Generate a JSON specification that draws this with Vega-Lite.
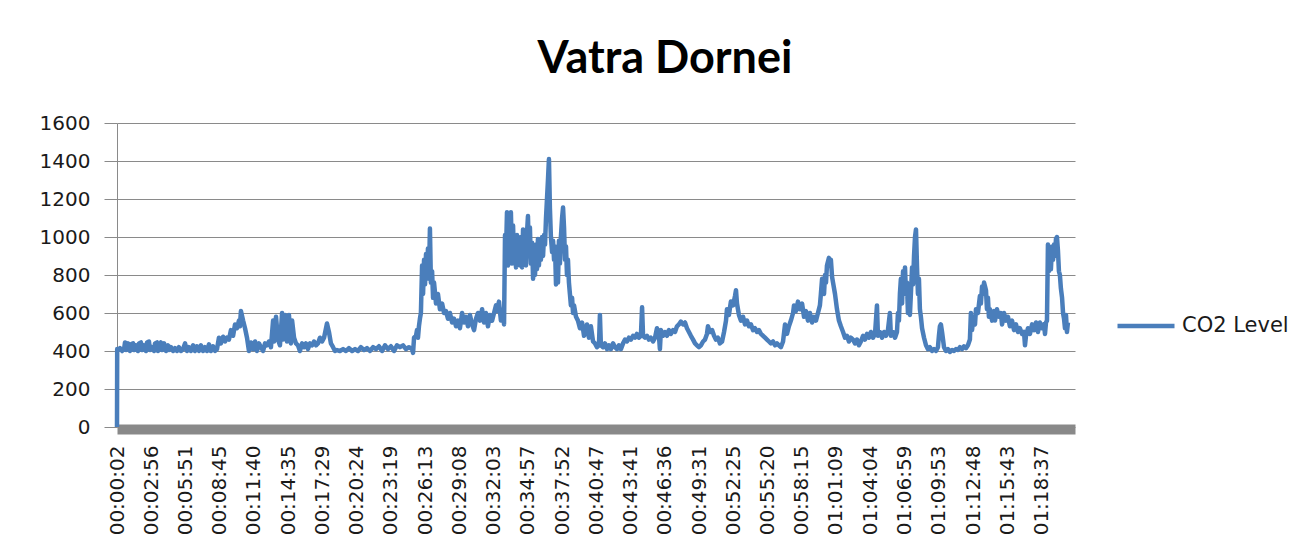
{
  "$schema": "https://vega.github.io/schema/vega-lite/v6.json",
  "autosize": {"type": "none"},
  "width": 958,
  "height": 304,
  "padding": {"left": 117, "top": 123, "right": 227, "bottom": 129},
  "background": "white",
  "title": {"text": "Vatra Dornei", "font": "Lato", "fontSize": 45, "fontWeight": "bold", "color": "#000000", "anchor": "middle", "frame": "group", "dx": 69, "baseline": "alphabetic", "offset": -5},
  "data": {"values": [
{"t":2,"co2":0},{"t":3,"co2":410},{"t":7,"co2":405},{"t":17,"co2":415},{"t":28,"co2":400},{"t":38,"co2":410},{"t":43,"co2":445},{"t":48,"co2":405},{"t":58,"co2":440},{"t":68,"co2":400},{"t":73,"co2":435},{"t":84,"co2":440},{"t":89,"co2":405},{"t":99,"co2":430},{"t":109,"co2":400},{"t":114,"co2":440},{"t":124,"co2":445},{"t":130,"co2":405},{"t":140,"co2":430},{"t":150,"co2":400},{"t":155,"co2":445},{"t":165,"co2":450},{"t":170,"co2":405},{"t":180,"co2":420},{"t":191,"co2":400},{"t":196,"co2":440},{"t":206,"co2":445},{"t":211,"co2":400},{"t":221,"co2":435},{"t":226,"co2":445},{"t":232,"co2":405},{"t":242,"co2":440},{"t":252,"co2":400},{"t":262,"co2":430},{"t":267,"co2":405},{"t":277,"co2":420},{"t":288,"co2":400},{"t":298,"co2":415},{"t":308,"co2":400},{"t":318,"co2":420},{"t":328,"co2":400},{"t":339,"co2":410},{"t":349,"co2":440},{"t":359,"co2":400},{"t":369,"co2":420},{"t":379,"co2":400},{"t":390,"co2":430},{"t":400,"co2":400},{"t":410,"co2":425},{"t":420,"co2":400},{"t":430,"co2":430},{"t":441,"co2":400},{"t":451,"co2":420},{"t":461,"co2":400},{"t":471,"co2":435},{"t":481,"co2":400},{"t":492,"co2":425},{"t":502,"co2":400},{"t":512,"co2":410},{"t":522,"co2":470},{"t":532,"co2":440},{"t":543,"co2":475},{"t":553,"co2":450},{"t":563,"co2":470},{"t":573,"co2":460},{"t":583,"co2":510},{"t":594,"co2":480},{"t":604,"co2":540},{"t":614,"co2":520},{"t":624,"co2":560},{"t":629,"co2":530},{"t":634,"co2":610},{"t":645,"co2":560},{"t":655,"co2":520},{"t":665,"co2":470},{"t":675,"co2":400},{"t":685,"co2":445},{"t":696,"co2":410},{"t":706,"co2":450},{"t":716,"co2":400},{"t":726,"co2":440},{"t":736,"co2":420},{"t":747,"co2":400},{"t":757,"co2":440},{"t":767,"co2":430},{"t":777,"co2":450},{"t":787,"co2":420},{"t":798,"co2":560},{"t":803,"co2":450},{"t":813,"co2":580},{"t":823,"co2":460},{"t":833,"co2":430},{"t":844,"co2":600},{"t":849,"co2":460},{"t":859,"co2":590},{"t":869,"co2":450},{"t":879,"co2":590},{"t":889,"co2":440},{"t":895,"co2":560},{"t":905,"co2":470},{"t":915,"co2":440},{"t":925,"co2":430},{"t":935,"co2":400},{"t":946,"co2":440},{"t":956,"co2":420},{"t":966,"co2":440},{"t":976,"co2":410},{"t":986,"co2":440},{"t":997,"co2":430},{"t":1007,"co2":450},{"t":1017,"co2":430},{"t":1027,"co2":440},{"t":1037,"co2":470},{"t":1048,"co2":450},{"t":1058,"co2":470},{"t":1068,"co2":520},{"t":1073,"co2":545},{"t":1083,"co2":500},{"t":1093,"co2":440},{"t":1104,"co2":420},{"t":1114,"co2":400},{"t":1124,"co2":405},{"t":1139,"co2":400},{"t":1155,"co2":410},{"t":1170,"co2":400},{"t":1185,"co2":415},{"t":1201,"co2":400},{"t":1216,"co2":410},{"t":1231,"co2":400},{"t":1246,"co2":420},{"t":1262,"co2":405},{"t":1277,"co2":415},{"t":1292,"co2":400},{"t":1308,"co2":420},{"t":1323,"co2":410},{"t":1338,"co2":425},{"t":1354,"co2":400},{"t":1369,"co2":430},{"t":1384,"co2":410},{"t":1399,"co2":425},{"t":1415,"co2":400},{"t":1430,"co2":430},{"t":1445,"co2":420},{"t":1461,"co2":430},{"t":1476,"co2":410},{"t":1491,"co2":420},{"t":1507,"co2":410},{"t":1512,"co2":390},{"t":1517,"co2":470},{"t":1527,"co2":480},{"t":1532,"co2":510},{"t":1537,"co2":470},{"t":1542,"co2":530},{"t":1547,"co2":570},{"t":1552,"co2":600},{"t":1558,"co2":850},{"t":1563,"co2":700},{"t":1568,"co2":880},{"t":1573,"co2":750},{"t":1578,"co2":910},{"t":1583,"co2":820},{"t":1588,"co2":940},{"t":1593,"co2":780},{"t":1598,"co2":1045},{"t":1603,"co2":760},{"t":1609,"co2":820},{"t":1614,"co2":680},{"t":1619,"co2":760},{"t":1629,"co2":650},{"t":1639,"co2":700},{"t":1649,"co2":620},{"t":1660,"co2":650},{"t":1670,"co2":600},{"t":1680,"co2":610},{"t":1690,"co2":570},{"t":1700,"co2":600},{"t":1711,"co2":550},{"t":1721,"co2":570},{"t":1731,"co2":530},{"t":1741,"co2":560},{"t":1751,"co2":520},{"t":1762,"co2":600},{"t":1772,"co2":550},{"t":1782,"co2":580},{"t":1792,"co2":530},{"t":1802,"co2":590},{"t":1813,"co2":540},{"t":1823,"co2":510},{"t":1833,"co2":570},{"t":1843,"co2":600},{"t":1853,"co2":560},{"t":1864,"co2":620},{"t":1874,"co2":550},{"t":1884,"co2":600},{"t":1894,"co2":530},{"t":1904,"co2":590},{"t":1915,"co2":560},{"t":1925,"co2":600},{"t":1935,"co2":640},{"t":1940,"co2":610},{"t":1950,"co2":660},{"t":1960,"co2":560},{"t":1971,"co2":620},{"t":1976,"co2":540},{"t":1981,"co2":1010},{"t":1986,"co2":920},{"t":1991,"co2":1130},{"t":1996,"co2":850},{"t":2001,"co2":1120},{"t":2006,"co2":900},{"t":2011,"co2":1130},{"t":2017,"co2":860},{"t":2022,"co2":1060},{"t":2027,"co2":870},{"t":2032,"co2":1000},{"t":2037,"co2":840},{"t":2042,"co2":1010},{"t":2047,"co2":880},{"t":2052,"co2":960},{"t":2057,"co2":850},{"t":2062,"co2":1000},{"t":2068,"co2":840},{"t":2073,"co2":1040},{"t":2078,"co2":900},{"t":2083,"co2":960},{"t":2088,"co2":850},{"t":2093,"co2":1020},{"t":2098,"co2":1110},{"t":2103,"co2":900},{"t":2108,"co2":1050},{"t":2113,"co2":860},{"t":2119,"co2":970},{"t":2124,"co2":780},{"t":2129,"co2":900},{"t":2134,"co2":800},{"t":2139,"co2":960},{"t":2144,"co2":830},{"t":2149,"co2":990},{"t":2154,"co2":850},{"t":2159,"co2":980},{"t":2164,"co2":880},{"t":2170,"co2":1000},{"t":2175,"co2":900},{"t":2180,"co2":1010},{"t":2185,"co2":960},{"t":2190,"co2":1100},{"t":2195,"co2":1200},{"t":2200,"co2":1300},{"t":2205,"co2":1410},{"t":2210,"co2":1150},{"t":2215,"co2":1000},{"t":2221,"co2":920},{"t":2226,"co2":980},{"t":2231,"co2":880},{"t":2236,"co2":950},{"t":2241,"co2":750},{"t":2246,"co2":900},{"t":2251,"co2":760},{"t":2256,"co2":980},{"t":2261,"co2":860},{"t":2266,"co2":1000},{"t":2272,"co2":1100},{"t":2277,"co2":1155},{"t":2282,"co2":1050},{"t":2287,"co2":880},{"t":2292,"co2":950},{"t":2297,"co2":800},{"t":2302,"co2":880},{"t":2307,"co2":760},{"t":2312,"co2":700},{"t":2317,"co2":640},{"t":2323,"co2":680},{"t":2328,"co2":600},{"t":2333,"co2":640},{"t":2343,"co2":580},{"t":2353,"co2":560},{"t":2363,"co2":520},{"t":2374,"co2":550},{"t":2384,"co2":480},{"t":2394,"co2":500},{"t":2399,"co2":540},{"t":2409,"co2":470},{"t":2419,"co2":530},{"t":2430,"co2":450},{"t":2440,"co2":440},{"t":2450,"co2":420},{"t":2460,"co2":430},{"t":2465,"co2":590},{"t":2470,"co2":430},{"t":2481,"co2":420},{"t":2491,"co2":440},{"t":2501,"co2":410},{"t":2511,"co2":430},{"t":2521,"co2":410},{"t":2532,"co2":440},{"t":2542,"co2":420},{"t":2552,"co2":410},{"t":2562,"co2":430},{"t":2572,"co2":410},{"t":2583,"co2":440},{"t":2593,"co2":460},{"t":2603,"co2":450},{"t":2613,"co2":470},{"t":2623,"co2":460},{"t":2634,"co2":480},{"t":2644,"co2":470},{"t":2654,"co2":490},{"t":2664,"co2":470},{"t":2674,"co2":480},{"t":2680,"co2":630},{"t":2685,"co2":480},{"t":2695,"co2":470},{"t":2705,"co2":480},{"t":2715,"co2":460},{"t":2725,"co2":470},{"t":2736,"co2":450},{"t":2746,"co2":470},{"t":2756,"co2":520},{"t":2766,"co2":480},{"t":2771,"co2":410},{"t":2776,"co2":510},{"t":2787,"co2":480},{"t":2797,"co2":500},{"t":2807,"co2":480},{"t":2817,"co2":510},{"t":2827,"co2":490},{"t":2838,"co2":510},{"t":2848,"co2":500},{"t":2858,"co2":530},{"t":2868,"co2":540},{"t":2878,"co2":555},{"t":2889,"co2":540},{"t":2899,"co2":550},{"t":2909,"co2":520},{"t":2919,"co2":500},{"t":2929,"co2":480},{"t":2940,"co2":460},{"t":2950,"co2":440},{"t":2960,"co2":430},{"t":2970,"co2":420},{"t":2980,"co2":430},{"t":2991,"co2":450},{"t":3001,"co2":460},{"t":3011,"co2":490},{"t":3016,"co2":530},{"t":3026,"co2":500},{"t":3037,"co2":510},{"t":3047,"co2":480},{"t":3057,"co2":460},{"t":3067,"co2":470},{"t":3077,"co2":440},{"t":3088,"co2":450},{"t":3098,"co2":500},{"t":3108,"co2":560},{"t":3113,"co2":620},{"t":3123,"co2":590},{"t":3133,"co2":660},{"t":3144,"co2":640},{"t":3154,"co2":690},{"t":3159,"co2":720},{"t":3164,"co2":650},{"t":3174,"co2":590},{"t":3184,"co2":560},{"t":3195,"co2":580},{"t":3205,"co2":540},{"t":3215,"co2":560},{"t":3225,"co2":530},{"t":3235,"co2":540},{"t":3246,"co2":510},{"t":3256,"co2":520},{"t":3266,"co2":500},{"t":3276,"co2":510},{"t":3286,"co2":490},{"t":3297,"co2":480},{"t":3307,"co2":470},{"t":3317,"co2":460},{"t":3327,"co2":450},{"t":3337,"co2":440},{"t":3348,"co2":450},{"t":3358,"co2":430},{"t":3368,"co2":440},{"t":3378,"co2":430},{"t":3388,"co2":420},{"t":3399,"co2":450},{"t":3409,"co2":540},{"t":3419,"co2":490},{"t":3429,"co2":530},{"t":3439,"co2":560},{"t":3450,"co2":600},{"t":3455,"co2":640},{"t":3465,"co2":610},{"t":3475,"co2":660},{"t":3485,"co2":620},{"t":3496,"co2":650},{"t":3506,"co2":580},{"t":3516,"co2":610},{"t":3526,"co2":560},{"t":3536,"co2":600},{"t":3547,"co2":550},{"t":3557,"co2":580},{"t":3567,"co2":560},{"t":3577,"co2":600},{"t":3587,"co2":640},{"t":3592,"co2":700},{"t":3598,"co2":780},{"t":3608,"co2":700},{"t":3613,"co2":800},{"t":3618,"co2":760},{"t":3623,"co2":850},{"t":3633,"co2":890},{"t":3638,"co2":850},{"t":3643,"co2":880},{"t":3649,"co2":790},{"t":3654,"co2":760},{"t":3664,"co2":700},{"t":3674,"co2":620},{"t":3684,"co2":560},{"t":3694,"co2":530},{"t":3705,"co2":500},{"t":3715,"co2":470},{"t":3725,"co2":480},{"t":3735,"co2":450},{"t":3745,"co2":470},{"t":3756,"co2":460},{"t":3766,"co2":440},{"t":3776,"co2":460},{"t":3786,"co2":430},{"t":3796,"co2":450},{"t":3807,"co2":480},{"t":3817,"co2":460},{"t":3827,"co2":490},{"t":3837,"co2":470},{"t":3847,"co2":500},{"t":3858,"co2":470},{"t":3868,"co2":490},{"t":3878,"co2":640},{"t":3883,"co2":480},{"t":3893,"co2":500},{"t":3904,"co2":470},{"t":3914,"co2":500},{"t":3924,"co2":480},{"t":3934,"co2":510},{"t":3944,"co2":600},{"t":3949,"co2":480},{"t":3960,"co2":500},{"t":3970,"co2":470},{"t":3980,"co2":500},{"t":3985,"co2":600},{"t":3990,"co2":560},{"t":3995,"co2":700},{"t":4000,"co2":780},{"t":4006,"co2":650},{"t":4011,"co2":820},{"t":4016,"co2":750},{"t":4021,"co2":840},{"t":4026,"co2":700},{"t":4031,"co2":760},{"t":4036,"co2":600},{"t":4041,"co2":650},{"t":4046,"co2":590},{"t":4051,"co2":700},{"t":4057,"co2":840},{"t":4062,"co2":750},{"t":4067,"co2":900},{"t":4072,"co2":1000},{"t":4077,"co2":1040},{"t":4082,"co2":850},{"t":4087,"co2":700},{"t":4092,"co2":780},{"t":4097,"co2":620},{"t":4102,"co2":580},{"t":4108,"co2":520},{"t":4118,"co2":470},{"t":4128,"co2":430},{"t":4138,"co2":410},{"t":4148,"co2":420},{"t":4159,"co2":400},{"t":4169,"co2":410},{"t":4179,"co2":400},{"t":4189,"co2":420},{"t":4194,"co2":480},{"t":4199,"co2":530},{"t":4204,"co2":540},{"t":4210,"co2":500},{"t":4215,"co2":460},{"t":4220,"co2":420},{"t":4230,"co2":400},{"t":4240,"co2":410},{"t":4250,"co2":395},{"t":4261,"co2":405},{"t":4271,"co2":400},{"t":4281,"co2":410},{"t":4291,"co2":405},{"t":4301,"co2":420},{"t":4312,"co2":410},{"t":4322,"co2":425},{"t":4332,"co2":415},{"t":4342,"co2":430},{"t":4352,"co2":460},{"t":4357,"co2":600},{"t":4363,"co2":510},{"t":4368,"co2":560},{"t":4378,"co2":540},{"t":4383,"co2":620},{"t":4393,"co2":600},{"t":4403,"co2":690},{"t":4408,"co2":650},{"t":4414,"co2":740},{"t":4419,"co2":700},{"t":4424,"co2":760},{"t":4429,"co2":740},{"t":4434,"co2":720},{"t":4439,"co2":620},{"t":4444,"co2":680},{"t":4449,"co2":580},{"t":4454,"co2":620},{"t":4465,"co2":560},{"t":4475,"co2":610},{"t":4480,"co2":560},{"t":4490,"co2":620},{"t":4500,"co2":580},{"t":4510,"co2":600},{"t":4516,"co2":540},{"t":4526,"co2":600},{"t":4536,"co2":560},{"t":4546,"co2":580},{"t":4556,"co2":530},{"t":4567,"co2":560},{"t":4577,"co2":510},{"t":4587,"co2":540},{"t":4597,"co2":500},{"t":4607,"co2":520},{"t":4618,"co2":490},{"t":4628,"co2":500},{"t":4633,"co2":430},{"t":4638,"co2":480},{"t":4648,"co2":520},{"t":4658,"co2":490},{"t":4669,"co2":540},{"t":4679,"co2":510},{"t":4689,"co2":550},{"t":4699,"co2":500},{"t":4709,"co2":550},{"t":4720,"co2":520},{"t":4730,"co2":540},{"t":4735,"co2":490},{"t":4740,"co2":550},{"t":4745,"co2":560},{"t":4750,"co2":960},{"t":4755,"co2":820},{"t":4760,"co2":920},{"t":4765,"co2":830},{"t":4771,"co2":950},{"t":4776,"co2":880},{"t":4781,"co2":960},{"t":4786,"co2":900},{"t":4791,"co2":990},{"t":4796,"co2":1000},{"t":4801,"co2":930},{"t":4806,"co2":820},{"t":4811,"co2":800},{"t":4816,"co2":730},{"t":4822,"co2":680},{"t":4827,"co2":600},{"t":4832,"co2":570},{"t":4837,"co2":520},{"t":4842,"co2":590},{"t":4847,"co2":500},{"t":4852,"co2":550}
  ]},
  "mark": {"type": "line", "strokeWidth": 4.5, "strokeJoin": "round", "interpolate": "linear"},
  "encoding": {
    "x": {
      "field": "t", "type": "quantitative",
      "scale": {"domain": [2, 4888], "nice": false, "zero": false},
      "axis": {
        "title": null, "grid": false, "ticks": false,
        "values": [2,176,351,525,700,875,1049,1224,1399,1573,1748,1923,2097,2272,2447,2621,2796,2971,3145,3320,3495,3669,3844,4019,4193,4368,4543,4717],
        "labelExpr": "utcFormat(datum.value * 1000, '%H:%M:%S')",
        "labelAngle": -90, "labelAlign": "right", "labelBaseline": "middle",
        "labelFont": "DejaVu Sans", "labelFontSize": 20, "labelColor": "#1a1a1a",
        "labelPadding": 16, "offset": 2,
        "domainColor": "#898989", "domainWidth": 10,
        "labelOverlap": false, "labelBound": false, "labelFlush": false
      }
    },
    "y": {
      "field": "co2", "type": "quantitative",
      "scale": {"domain": [0, 1600], "nice": false},
      "axis": {
        "title": null, "values": [0,200,400,600,800,1000,1200,1400,1600], "format": "d",
        "grid": true, "gridColor": "#8a8a8a", "gridWidth": 1,
        "domainColor": "#8a8a8a", "tickColor": "#8a8a8a", "tickSize": 13,
        "labelFont": "DejaVu Sans", "labelFontSize": 20, "labelColor": "#1a1a1a",
        "labelPadding": 14
      }
    },
    "color": {
      "datum": "CO2 Level", "type": "nominal",
      "scale": {"range": ["#4a7ebb"]},
      "legend": {
        "title": null, "orient": "none", "legendX": 998, "legendY": 172,
        "symbolType": "stroke", "symbolSize": 3249, "symbolStrokeWidth": 4.5,
        "labelFont": "DejaVu Sans", "labelFontSize": 21, "labelColor": "#1a1a1a",
        "labelOffset": 5, "padding": 0
      }
    }
  },
  "config": {"view": {"stroke": null}}
}
